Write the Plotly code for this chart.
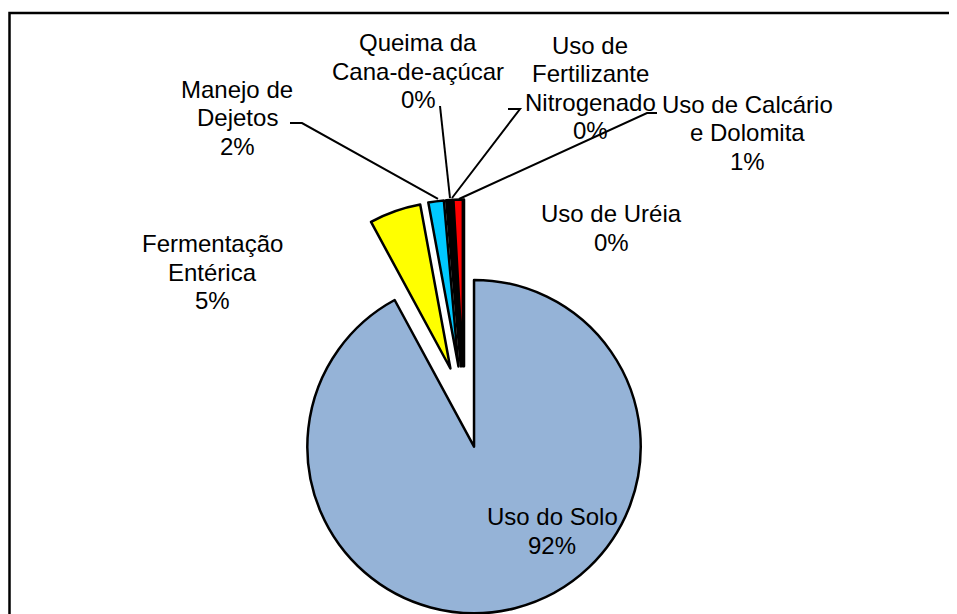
import plotly.graph_objects as go

W, H = 957, 614
OFF = 8  # page body margin seen in the screenshot

categories = ["Uso do Solo", "Fermentação Entérica", "Manejo de Dejetos",
              "Queima da Cana-de-açúcar", "Uso de Fertilizante Nitrogenado",
              "Uso de Calcário e Dolomita", "Uso de Uréia"]
values = [92.1, 5.0, 1.5, 0.3, 0.2, 0.9, 0.0]
pct_labels = ["92%", "5%", "2%", "0%", "0%", "1%", "0%"]
label_lines = [["Uso do Solo"], ["Fermentação", "Entérica"], ["Manejo de", "Dejetos"],
               ["Queima da", "Cana-de-açúcar"], ["Uso de", "Fertilizante", "Nitrogenado"],
               ["Uso de Calcário", "e Dolomita"], ["Uso de Uréia"]]
colors = ["#95B3D7", "#FFFF00", "#00C8FF", "#000000", "#000000", "#FF0000", "#FFFFFF"]


def px(x):
    return (x - OFF) / W


def py(y):
    return 1 - (y - OFF) / H


# label centres (pixels in the reference)
label_pos = [(552, 531), (212, 272), (237, 118), (418, 71), (590, 88), (747, 133), (611, 228)]
line_gap = 28.5

# leader lines (pixels in the reference)
leaders = [
    [(290, 123), (302, 123), (438, 199)],
    [(440, 106), (450, 198)],
    [(508, 109), (520, 109), (452, 198)],
    [(657, 113), (647, 113), (459, 199)],
]

fig = go.Figure()
fig.add_trace(go.Pie(
    labels=categories, values=values, sort=False, direction="clockwise", rotation=0,
    pull=[0.245] * len(values), textinfo="none", hoverinfo="label+percent",
    marker=dict(colors=colors, line=dict(color="black", width=2.5)),
    domain=dict(x=[px(464) - 0.3, px(464) + 0.3], y=[py(407) - 0.338, py(407) + 0.338]),
    showlegend=False,
))

annotations = []
for lines, pct, (x, y) in zip(label_lines, pct_labels, label_pos):
    rows = lines + [pct]
    n = len(rows)
    for i, row in enumerate(rows):
        ly = y + (i - (n - 1) / 2) * line_gap
        annotations.append(dict(
            x=px(x), y=py(ly), xref="paper", yref="paper", showarrow=False,
            text=row, xanchor="center", yanchor="middle",
            font=dict(family="Liberation Sans, Arial", size=24, color="black"),
        ))

shapes = []
for pts in leaders:
    path = "M " + " L ".join(f"{px(x):.5f},{py(y):.5f}" for x, y in pts)
    shapes.append(dict(type="path", path=path, xref="paper", yref="paper",
                       line=dict(color="black", width=2)))
shapes.append(dict(type="rect", xref="paper", yref="paper",
                   x0=px(9.5), x1=1.05, y0=-0.05, y1=py(13),
                   line=dict(color="black", width=2.5)))

fig.update_layout(
    width=W, height=H, margin=dict(l=0, r=0, t=0, b=0),
    paper_bgcolor="white", plot_bgcolor="white",
    annotations=annotations, shapes=shapes,
)

fig.write_html("out.html")
